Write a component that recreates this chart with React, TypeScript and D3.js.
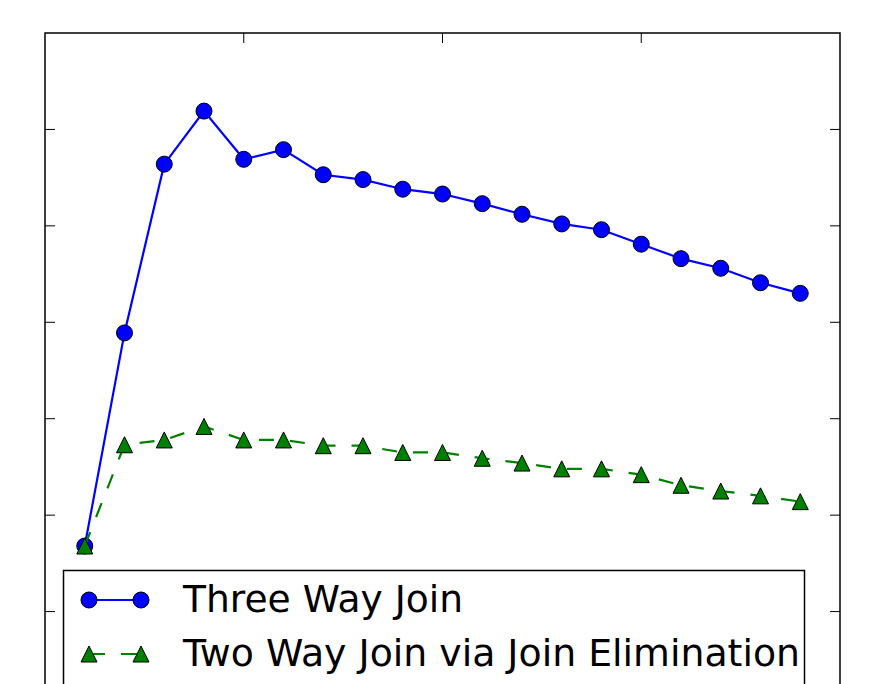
import React from 'react';
import * as d3 from 'd3';

// data (y in tick units, 0..7 spans the axes)
const xValues = [1, 2, 3, 4, 5, 6, 7, 8, 9, 10, 11, 12, 13, 14, 15, 16, 17, 18, 19];
const threeWayJoin = [1.68, 3.89, 5.64, 6.19, 5.69, 5.79, 5.53, 5.48, 5.38, 5.33, 5.23, 5.12, 5.02, 4.96, 4.81, 4.66, 4.56, 4.41, 4.30];
const twoWayJoin = [1.68, 2.73, 2.78, 2.92, 2.78, 2.78, 2.72, 2.72, 2.65, 2.65, 2.59, 2.54, 2.48, 2.48, 2.42, 2.31, 2.25, 2.20, 2.14];
const xTicks = [5, 10, 15];
const yTicks = [1, 2, 3, 4, 5, 6];
const seriesLabels = ['Three Way Join', 'Two Way Join via Join Elimination'];

const W = 873;
const H = 684;
const box = { left: 45, right: 840, top: 33, bottom: 708 };

const triangle = (cx: number, cy: number, s: number) =>
  `M${cx},${cy - s} L${cx + s},${cy + s} L${cx - s},${cy + s} Z`;

const App = () => {
  const x = d3.scaleLinear().domain([0, 20]).range([box.left, box.right]);
  const y = d3.scaleLinear().domain([0, 7]).range([box.bottom, box.top]);

  const line = d3.line<number>()
    .x((d, i) => x(xValues[i]))
    .y((d) => y(d));

  const tickLen = 10;
  const font = "'DejaVu Sans', sans-serif";

  return (
    <svg width={W} height={H} style={{ position: 'absolute', left: 0, top: 0, background: '#fff' }}>
      <rect x={0} y={0} width={W} height={H} fill="#fff" />

      {/* ticks, inward on all sides */}
      <g stroke="#000" strokeWidth={1}>
        {yTicks.map((t) => (
          <g key={'y' + t}>
            <line x1={box.left} x2={box.left + tickLen} y1={y(t)} y2={y(t)} />
            <line x1={box.right} x2={box.right - tickLen} y1={y(t)} y2={y(t)} />
          </g>
        ))}
        {xTicks.map((t) => (
          <g key={'x' + t}>
            <line x1={x(t)} x2={x(t)} y1={box.top} y2={box.top + tickLen} />
            <line x1={x(t)} x2={x(t)} y1={box.bottom} y2={box.bottom - tickLen} />
          </g>
        ))}
      </g>

      {/* three way join */}
      <path d={line(threeWayJoin) || ''} fill="none" stroke="#0000ff" strokeWidth={2.2} />
      {threeWayJoin.map((v, i) => (
        <circle key={'c' + i} cx={x(xValues[i])} cy={y(v)} r={8} fill="#0000ff" stroke="#000" strokeWidth={1} />
      ))}

      {/* two way join */}
      <path d={line(twoWayJoin) || ''} fill="none" stroke="#008000" strokeWidth={2.2} strokeDasharray="15 16" />
      {twoWayJoin.map((v, i) => (
        <path key={'t' + i} d={triangle(x(xValues[i]), y(v), 8)} fill="#008000" stroke="#000" strokeWidth={1} />
      ))}

      {/* axes frame */}
      <rect x={box.left} y={box.top} width={box.right - box.left} height={box.bottom - box.top}
        fill="none" stroke="#000" strokeWidth={1.5} />

      {/* legend */}
      <rect x={63.5} y={570.5} width={741} height={160} fill="#fff" stroke="#000" strokeWidth={1.5} />
      <line x1={89} x2={141} y1={600} y2={600} stroke="#0000ff" strokeWidth={2.2} />
      <circle cx={89} cy={600} r={8} fill="#0000ff" stroke="#000" strokeWidth={1} />
      <circle cx={141} cy={600} r={8} fill="#0000ff" stroke="#000" strokeWidth={1} />
      <text x={183} y={612} fontFamily={font} fontSize={37.5} fill="#000"
        textLength={280} lengthAdjust="spacingAndGlyphs">{seriesLabels[0]}</text>

      <line x1={89} x2={141} y1={654} y2={654} stroke="#008000" strokeWidth={2.2} strokeDasharray="16 16" />
      <path d={triangle(89, 654, 8)} fill="#008000" stroke="#000" strokeWidth={1} />
      <path d={triangle(141, 654, 8)} fill="#008000" stroke="#000" strokeWidth={1} />
      <text x={183} y={666} fontFamily={font} fontSize={37.5} fill="#000"
        textLength={617} lengthAdjust="spacingAndGlyphs">{seriesLabels[1]}</text>
    </svg>
  );
};

export default App;
